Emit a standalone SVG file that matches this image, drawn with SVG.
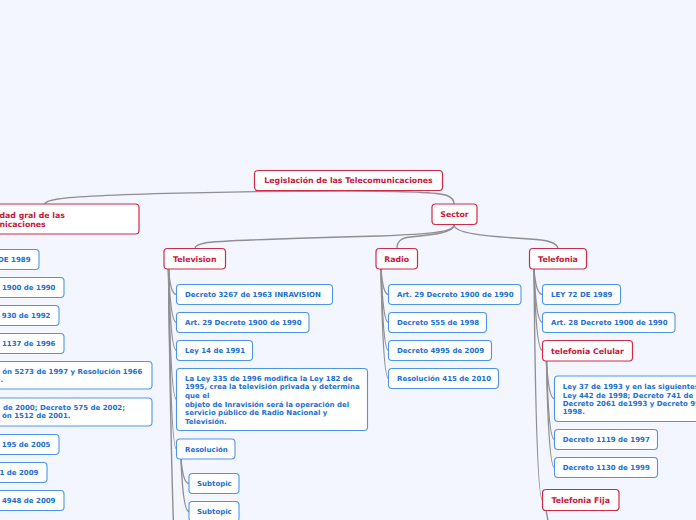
<svg xmlns="http://www.w3.org/2000/svg" width="696" height="520" viewBox="0 0 696 520">
<style>
.bg{fill:#f3f6fe}
.rn rect{fill:#fff;stroke:#cf2a48;stroke-width:1.2}
.rn text{font-family:"DejaVu Sans",Verdana,sans-serif;font-weight:bold;font-size:7.8px;fill:#c8173b;text-anchor:middle}
.bn rect{fill:#fff;stroke:#4d95ec;stroke-width:1.1}
.bn text{font-family:"DejaVu Sans",Verdana,sans-serif;font-weight:bold;font-size:7px;fill:#1b6fd4}
.e{text-anchor:end}
#connectors path{fill:none;stroke:#8e8e93;stroke-width:1.4;stroke-linecap:round}
</style>
<rect class="bg" x="0" y="0" width="696" height="520"/>
<g id="connectors">
<path d="M348,191 C250,191 90,194 58,199 C49,200.5 45,202 45,204"/>
<path d="M348,191 C400,191 438,192 447,195.5 C452,197.5 454,200 454,204"/>
<path d="M454,225 C454,232 430,234 380,236 C300,238 220,240 205,243 C197,244.5 195,246 195,248.5"/>
<path d="M454,225 C454,233 430,235 410,237 C400,238 397,242 397,248.5"/>
<path d="M454,225 C455,233 480,236 530,239 C550,240 557,243 558,248.5"/>
<path d="M168.5,269.5 C169.5,282 171.5,294.5 176.5,294.5"/>
<path d="M168.5,269.5 C169.5,296 171.5,322.5 176.5,322.5"/>
<path d="M168.5,269.5 C169.5,310 171.5,350.5 176.5,350.5"/>
<path d="M168.5,269.5 C169.5,334 171.5,399.5 176.5,399.5"/>
<path d="M168.5,269.5 C169.5,359 171.5,449 176.5,449"/>
<path d="M168.5,269.5 C170,400 172,480 173.5,525"/>
<path d="M181,459 C182,471 184,483.5 189,483.5"/>
<path d="M181,459 C182,485 184,511.5 189,511.5"/>
<path d="M381,269.5 C382,282 384,294.5 388.5,294.5"/>
<path d="M381,269.5 C382,296 384,322.5 388.5,322.5"/>
<path d="M381,269.5 C382,310 384,350.5 388.5,350.5"/>
<path d="M381,269.5 C382,324 384,378.5 388.5,378.5"/>
<path d="M534,269.5 C535,282 537,294.5 542.5,294.5"/>
<path d="M534,269.5 C535,296 537,322.5 542.5,322.5"/>
<path d="M534,269.5 C535,310 537,350.5 542.5,350.5"/>
<path d="M534,269.5 C535,385 537,500 542.5,500"/>
<path d="M546.5,361 C547.5,380 549.5,398.7 554.5,398.7"/>
<path d="M546.5,361 C547.5,400 549.5,439.5 554.5,439.5"/>
<path d="M546.5,361 C547.5,414 549.5,467.5 554.5,467.5"/>
<path d="M546,510.5 C547,515 548,519 548.5,525"/>
</g>
<g id="root" class="rn"><rect x="254.5" y="170.5" width="188" height="20" rx="3.5"/><text x="348.5" y="183.3">Legislación de las Telecomunicaciones</text></g>
<g id="sector" class="rn"><rect x="432" y="204" width="45" height="20.5" rx="3.5"/><text x="454.5" y="217.1">Sector</text></g>
<g id="autoridad" class="rn"><rect x="-6" y="204" width="145" height="30" rx="3.5"/><text x="-0.5" y="218" style="text-anchor:start">dad gral de las</text><text x="-0.5" y="226.6" style="text-anchor:start">nicaciones</text></g>
<g id="television" class="rn"><rect x="164" y="248.5" width="61.5" height="20.5" rx="3.5"/><text x="194.7" y="261.6">Television</text></g>
<g id="radio" class="rn"><rect x="376" y="248.5" width="41.5" height="20.5" rx="3.5"/><text x="396.7" y="261.6">Radio</text></g>
<g id="telefonia" class="rn"><rect x="529.5" y="248.5" width="57" height="20.5" rx="3.5"/><text x="558" y="261.6">Telefonia</text></g>
<g id="celular" class="rn"><rect x="542.5" y="340.5" width="90" height="20.5" rx="3.5"/><text x="587.5" y="353.6">telefonia Celular</text></g>
<g id="fija" class="rn"><rect x="542.5" y="489.5" width="76.5" height="21" rx="3.5"/><text x="580.7" y="502.8">Telefonia Fija</text></g>

<g id="l1" class="bn"><rect x="-10" y="249.5" width="49" height="20" rx="3.5"/><text class="e" x="30.5" y="262">DE 1989</text></g>
<g id="l2" class="bn"><rect x="-10" y="277.5" width="74" height="20" rx="3.5"/><text class="e" x="55.5" y="290">1900 de 1990</text></g>
<g id="l3" class="bn"><rect x="-10" y="305.5" width="69" height="20" rx="3.5"/><text class="e" x="50.5" y="318">930 de 1992</text></g>
<g id="l4" class="bn"><rect x="-10" y="333.5" width="74" height="20" rx="3.5"/><text class="e" x="55.5" y="346">1137 de 1996</text></g>
<g id="l5" class="bn"><rect x="-10" y="361.5" width="162" height="27.5" rx="3.5"/><text class="e" x="142.3" y="373.6">ón 5273 de 1997 y Resolución 1966</text><text x="0.5" y="382.4">.</text></g>
<g id="l6" class="bn"><rect x="-10" y="398" width="162" height="28" rx="3.5"/><text x="3" y="410">de 2000; Decreto 575 de 2002;</text><text class="e" x="70.5" y="418.4">ón 1512 de 2001.</text></g>
<g id="l7" class="bn"><rect x="-10" y="434.5" width="69" height="20" rx="3.5"/><text class="e" x="50.5" y="447">195 de 2005</text></g>
<g id="l8" class="bn"><rect x="-10" y="462.5" width="57" height="20" rx="3.5"/><text class="e" x="38.5" y="475">1 de 2009</text></g>
<g id="l9" class="bn"><rect x="-10" y="490.5" width="74" height="20" rx="3.5"/><text class="e" x="55.5" y="503">4948 de 2009</text></g>

<g id="tv1" class="bn"><rect x="176.5" y="284.5" width="156" height="20" rx="3.5"/><text x="185" y="297">Decreto 3267 de 1963 INRAVISION</text></g>
<g id="tv2" class="bn"><rect x="176.5" y="312.5" width="132.5" height="20" rx="3.5"/><text x="185" y="325">Art. 29 Decreto 1900 de 1990</text></g>
<g id="tv3" class="bn"><rect x="176.5" y="340.5" width="76" height="20" rx="3.5"/><text x="185" y="353">Ley 14 de 1991</text></g>
<g id="tv4" class="bn"><rect x="176.5" y="368.5" width="191" height="62" rx="3.5"/><text x="185" y="380.8">La Ley 335 de 1996 modifica la Ley 182 de</text><text x="185" y="389.4">1995, crea la televisión privada y determina</text><text x="185" y="398">que el</text><text x="185" y="406.6">objeto de Inravisión será la operación del</text><text x="185" y="415.2">servicio público de Radio Nacional y</text><text x="185" y="423.8">Televisión.</text></g>
<g id="tv5" class="bn"><rect x="176.5" y="439" width="58.5" height="20" rx="3.5"/><text x="185" y="451.5">Resolución</text></g>
<g id="sub1" class="bn"><rect x="189" y="473.5" width="50" height="20" rx="3.5"/><text x="197" y="486">Subtopic</text></g>
<g id="sub2" class="bn"><rect x="189" y="501.5" width="50" height="20" rx="3.5"/><text x="197" y="514">Subtopic</text></g>

<g id="r1" class="bn"><rect x="388.5" y="284.5" width="132.5" height="20" rx="3.5"/><text x="397" y="297">Art. 29 Decreto 1900 de 1990</text></g>
<g id="r2" class="bn"><rect x="388.5" y="312.5" width="98" height="20" rx="3.5"/><text x="397" y="325">Decreto 555 de 1998</text></g>
<g id="r3" class="bn"><rect x="388.5" y="340.5" width="103" height="20" rx="3.5"/><text x="397" y="353">Decreto 4995 de 2009</text></g>
<g id="r4" class="bn"><rect x="388.5" y="368.5" width="110" height="20" rx="3.5"/><text x="397" y="381">Resolución 415 de 2010</text></g>

<g id="t1" class="bn"><rect x="542.5" y="284.5" width="78" height="20" rx="3.5"/><text x="551" y="297">LEY 72 DE 1989</text></g>
<g id="t2" class="bn"><rect x="542.5" y="312.5" width="132.5" height="20" rx="3.5"/><text x="551" y="325">Art. 28 Decreto 1900 de 1990</text></g>
<g id="c1" class="bn"><rect x="554.5" y="376" width="160" height="45.5" rx="3.5"/><text x="562.7" y="389.2">Ley 37 de 1993 y en las siguientes</text><text x="562.7" y="397.6">Ley 442 de 1998; Decreto 741 de</text><text x="562.7" y="406">Decreto 2061 de1993 y Decreto 99</text><text x="562.7" y="414.4">1998.</text></g>
<g id="c2" class="bn"><rect x="554.5" y="429.5" width="103" height="20" rx="3.5"/><text x="562.7" y="442">Decreto 1119 de 1997</text></g>
<g id="c3" class="bn"><rect x="554.5" y="457.5" width="103" height="20" rx="3.5"/><text x="562.7" y="470">Decreto 1130 de 1999</text></g>
</svg>
